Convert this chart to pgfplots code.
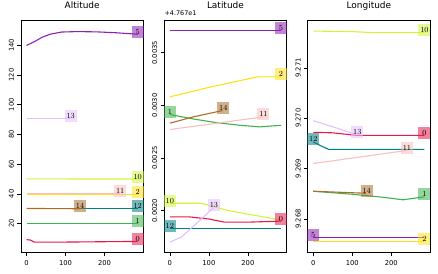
\documentclass[border=0pt]{standalone}
\usepackage{fontspec}
\setsansfont{DejaVu Sans}
\usepackage{pgfplots}
\pgfplotsset{compat=1.18}
\definecolor{c0}{HTML}{E6194B}
\definecolor{c1}{HTML}{3CB44B}
\definecolor{c2}{HTML}{FFE119}
\definecolor{c5}{HTML}{911EB4}
\definecolor{c10}{HTML}{D2F53C}
\definecolor{c11}{HTML}{FABEBE}
\definecolor{c12}{HTML}{008080}
\definecolor{c13}{HTML}{E6BEFF}
\definecolor{c14}{HTML}{AA6E28}
\tikzset{
 lab/.style={fill=#1, fill opacity=0.55, text opacity=1, font=\rmfamily\fontsize{7.8}{8}\selectfont,
  inner sep=1.5bp, minimum height=12bp, minimum width=12bp, yshift=2.5bp}
}
\pgfplotsset{
 base/.style={scale only axis, width=122.3bp, height=232.7bp, anchor=south west,
  xmin=-14.25, xmax=299.25, xtick={0,100,200}, tick align=outside,
  xtick pos=bottom, ytick pos=left,
  major tick length=3.5bp, tick style={black, line width=0.6bp},
  axis line style={line width=0.6bp},
  ticklabel style={font=\sffamily\fontsize{6.8}{7}\selectfont},
  xticklabel style={yshift=-1bp},
  /pgf/number format/assume math mode=true,
  yticklabel style={rotate=90, anchor=south, xshift=0bp},
  title style={font=\sffamily\fontsize{9}{10}\selectfont, anchor=base, yshift=6bp, inner sep=0pt},
  clip=false, scaled y ticks=false,
  every axis plot/.append style={line width=1.1bp, no marks}}
}
\begin{document}
\begin{tikzpicture}
\useasboundingbox (0,0) rectangle (438bp,274bp);
% ---------------- Altitude
\begin{axis}[base, at={(21bp,21.3bp)}, title={Altitude}, ymin=0.4, ymax=157.1, ytick={20,40,60,80,100,120,140}]
\addplot[c0] coordinates {(0,9.2)(10,8.9)(20,7.5)(60,7.5)(120,7.6)(200,7.8)(285,8)};
\addplot[c1] coordinates {(0,20)(285,20)};
\addplot[c2] coordinates {(0,39.6)(285,39.6)};
\addplot[c5] coordinates {(0,140)(20,142.5)(40,145.5)(60,147.5)(90,149)(130,149.3)(180,149.1)(230,148.5)(285,147.5)};
\addplot[c10] coordinates {(0,50.1)(285,50)};
\addplot[c11] coordinates {(0,40)(240,40)};
\addplot[c12] coordinates {(0,30.2)(285,30.2)};
\addplot[c13] coordinates {(0,90.8)(113,90.8)};
\addplot[c14] coordinates {(0,30.2)(135,30)};
\node[lab=c0] at (axis cs:285,8) {0};
\node[lab=c1] at (axis cs:285,20) {1};
\node[lab=c2] at (axis cs:285,39.6) {2};
\node[lab=c5] at (axis cs:285,147.5) {5};
\node[lab=c10] at (axis cs:285,50) {10};
\node[lab=c11] at (axis cs:240,40) {11};
\node[lab=c12] at (axis cs:285,30.2) {12};
\node[lab=c13] at (axis cs:113,90.8) {13};
\node[lab=c14] at (axis cs:137,30) {14};
\end{axis}
% ---------------- Latitude
\begin{axis}[base, at={(164.3bp,21.3bp)}, title={Latitude}, ymin=0.0016, ymax=0.00381,
  ytick={0.0020,0.0025,0.0030,0.0035},
  yticklabel style={/pgf/number format/.cd, fixed, fixed zerofill, precision=4}]
\addplot[c0] coordinates {(0,0.00194)(50,0.00194)(100,0.00192)(140,0.00189)(200,0.00189)(285,0.0019)};
\addplot[c1] coordinates {(0,0.002912)(60,0.00287)(120,0.002835)(180,0.00281)(230,0.002795)(285,0.00281)};
\addplot[c2] coordinates {(0,0.00308)(100,0.00317)(200,0.00325)(225,0.00327)(285,0.00327)};
\addplot[c5] coordinates {(0,0.00371)(285,0.00371)};
\addplot[c10] coordinates {(0,0.00207)(80,0.00207)(150,0.00200)(285,0.00191)};
\addplot[c11] coordinates {(0,0.00277)(100,0.00282)(240,0.00289)};
\addplot[c12] coordinates {(0,0.00183)(285,0.00183)};
\addplot[c13] coordinates {(0,0.0017)(30,0.00175)(60,0.00185)(113,0.00203)};
\addplot[c14] coordinates {(0,0.00283)(60,0.00289)(135,0.00295)};
\node[lab=c0] at (axis cs:285,0.0019) {0};
\node[lab=c1] at (axis cs:0,0.002912) {1};
\node[lab=c2] at (axis cs:285,0.00327) {2};
\node[lab=c5] at (axis cs:285,0.00371) {5};
\node[lab=c10] at (axis cs:0,0.00207) {10};
\node[lab=c11] at (axis cs:240,0.00289) {11};
\node[lab=c12] at (axis cs:0,0.00183) {12};
\node[lab=c13] at (axis cs:113,0.00203) {13};
\node[lab=c14] at (axis cs:137,0.00295) {14};
\node[anchor=base west, inner sep=0pt, font=\sffamily\fontsize{6.5}{7}\selectfont] at (rel axis cs:0,1) [yshift=4.5bp] {+4.767e1};
\end{axis}
% ---------------- Longitude
\begin{axis}[base, at={(307.7bp,21.3bp)}, title={Longitude}, ymin=9.26733, ymax=9.27195,
  ytick={9.268,9.269,9.270,9.271},
  yticklabel style={/pgf/number format/.cd, fixed, fixed zerofill, precision=3}]
\addplot[c0] coordinates {(0,9.26972)(50,9.26971)(110,9.26966)(285,9.26966)};
\addplot[c1] coordinates {(0,9.26855)(100,9.26849)(180,9.26843)(230,9.26838)(285,9.26844)};
\addplot[c2] coordinates {(0,9.26756)(285,9.26756)};
\addplot[c5] coordinates {(0,9.26764)(285,9.26764)};
\addplot[c10] coordinates {(0,9.27173)(100,9.27172)(150,9.2717)(285,9.2717)};
\addplot[c11] coordinates {(0,9.26910)(240,9.26936)};
\addplot[c12] coordinates {(0,9.26953)(20,9.26945)(40,9.26938)(285,9.26938)};
\addplot[c13] coordinates {(0,9.26995)(50,9.26983)(113,9.26967)};
\addplot[c14] coordinates {(0,9.26855)(135,9.26851)};
\node[lab=c0] at (axis cs:285,9.26966) {0};
\node[lab=c1] at (axis cs:285,9.26844) {1};
\node[lab=c2] at (axis cs:285,9.26756) {2};
\node[lab=c5] at (axis cs:0,9.26764) {5};
\node[lab=c10] at (axis cs:285,9.2717) {10};
\node[lab=c11] at (axis cs:240,9.26936) {11};
\node[lab=c12] at (axis cs:0,9.26953) {12};
\node[lab=c13] at (axis cs:113,9.26967) {13};
\node[lab=c14] at (axis cs:137,9.26851) {14};
\end{axis}
\end{tikzpicture}
\end{document}
